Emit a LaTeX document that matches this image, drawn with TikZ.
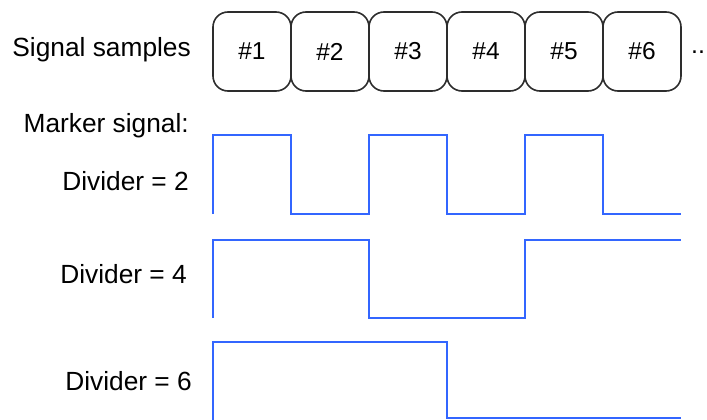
\documentclass[tikz,border=0pt]{standalone}
\usepackage{fontspec}
\setmainfont{Liberation Sans}
\definecolor{sigblue}{RGB}{51,102,255}
\definecolor{boxline}{RGB}{45,45,45}
\tikzset{
  sample/.style={draw=boxline, line width=1.6pt, rounded corners=15pt, minimum width=78pt, minimum height=79pt, inner sep=0pt, font=\fontsize{24.5}{30}\selectfont},
  lbl/.style={anchor=base east, inner sep=0pt, font=\fontsize{26.3}{31}\selectfont},
  sig/.style={draw=sigblue, line width=2.8pt}
}
\begin{document}
\begin{tikzpicture}[x=1pt,y=-1pt]
\useasboundingbox (0,0) rectangle (707,420);
% labels
\node[lbl] (lsamp) at (191,57) {Signal samples};
\node[lbl] (lmark) at (189,132) {Marker signal:};
\node[lbl] (ld2) at (189,190) {Divider = 2};
\node[lbl] (ld4) at (187,283) {Divider = 4};
\node[lbl] (ld6) at (192,390) {Divider = 6};
% sample boxes
\foreach \i in {1,...,6} {
  \node[sample] (s\i) at ({213+78*(\i-1)+39},51.5) {\#\i};
}
\node[anchor=base west, inner sep=0pt, font=\fontsize{25}{30}\selectfont] (dots) at (691,54) {..};
% divider 2
\draw[sig] (213,214) -- (213,135) -- (291,135) -- (291,214) -- (369,214) -- (369,135) -- (447,135) -- (447,214) -- (525,214) -- (525,135) -- (603,135) -- (603,214) -- (681,214);
% divider 4
\draw[sig] (213,318) -- (213,240) -- (369,240) -- (369,318) -- (525,318) -- (525,240) -- (681,240);
% divider 6
\draw[sig] (213,421) -- (213,342) -- (447,342) -- (447,418) -- (681,418);
\end{tikzpicture}
\end{document}
